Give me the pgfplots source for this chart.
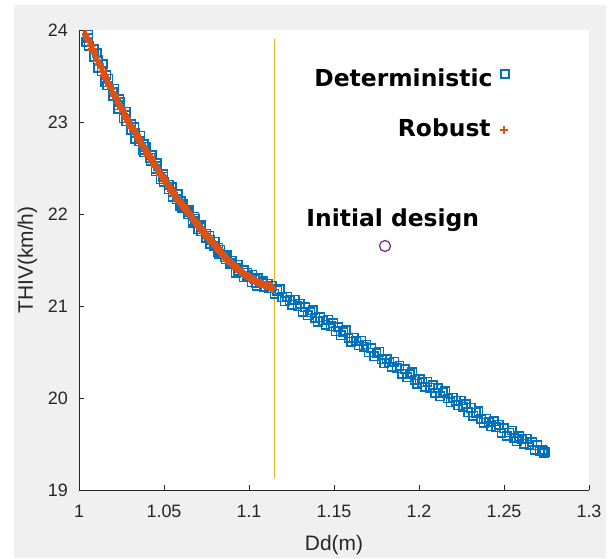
\documentclass[border=0pt]{standalone}
\usepackage{pgfplots}
\pgfplotsset{compat=1.18}
\usepackage{fontspec}
\setmainfont{Liberation Sans}
\newfontfamily\annfont{DejaVu Sans}
\usetikzlibrary{backgrounds}
\definecolor{mblue}{RGB}{0,114,189}
\definecolor{morange}{RGB}{217,83,25}
\definecolor{myellow}{RGB}{237,177,32}
\definecolor{mpurple}{RGB}{126,47,142}
\definecolor{figgray}{RGB}{240,240,240}
\definecolor{axgray}{RGB}{38,38,38}

\begin{document}
\begin{tikzpicture}
\begin{axis}[
  scale only axis, width=510bp, height=460bp,
  xmin=1, xmax=1.3, ymin=19, ymax=24,
  axis lines*=left,
  axis line style={color=axgray, line width=0.9bp},
  tick align=inside, major tick length=5bp,
  tick style={color=axgray, line width=0.9bp},
  xtick={1,1.05,1.1,1.15,1.2,1.25,1.3},
  xticklabels={1,1.05,1.1,1.15,1.2,1.25,1.3},
  ytick={19,20,21,22,23,24},
  /pgf/number format/assume math mode=true,
  ticklabel style={font=\fontsize{18}{18}\selectfont, color=axgray},
  xticklabel style={anchor=base, yshift=-28bp},
  yticklabel style={anchor=east, inner sep=0pt, xshift=-11bp},
  xlabel={Dd(m)}, ylabel={THIV(km/h)},
  label style={font=\fontsize{21}{21}\selectfont, color=axgray},
  xlabel style={at={(axis description cs:0.5,0)}, anchor=base, yshift=-61bp},
  ylabel style={at={(axis description cs:0,0.5)}, anchor=base, yshift=46bp},
  axis background/.style={fill=white},
]
% deterministic front
\addplot[only marks, mark=square, mark size=4.2bp, color=mblue, line width=1.5bp] coordinates {
(1.0055,23.950) (1.0042,23.870) (1.0088,23.790) (1.0088,23.710) (1.0140,23.630)
(1.0135,23.550) (1.0172,23.470) (1.0165,23.397) (1.0200,23.323) (1.0238,23.250)
(1.0230,23.180) (1.0275,23.110) (1.0262,23.040) (1.0308,22.977) (1.0308,22.913)
(1.0360,22.850) (1.0355,22.790) (1.0392,22.730) (1.0385,22.670) (1.0420,22.610)
(1.0458,22.550) (1.0450,22.490) (1.0495,22.433) (1.0482,22.377) (1.0528,22.320)
(1.0528,22.267) (1.0580,22.213) (1.0575,22.160) (1.0612,22.113) (1.0605,22.067)
(1.0640,22.020) (1.0678,21.973) (1.0670,21.927) (1.0715,21.880) (1.0702,21.833)
(1.0748,21.787) (1.0748,21.740) (1.0800,21.697) (1.0795,21.653) (1.0832,21.610)
(1.0825,21.570) (1.0860,21.530) (1.0898,21.490) (1.0890,21.457) (1.0935,21.450)
(1.0922,21.360) (1.0968,21.390) (1.0968,21.310) (1.1020,21.340) (1.1015,21.260)
(1.1052,21.300) (1.1045,21.220) (1.1080,21.270) (1.1118,21.190) (1.1110,21.240)
(1.0055,23.910) (1.0058,23.830) (1.0105,23.750) (1.0110,23.670) (1.0112,23.590)
(1.0160,23.510) (1.0155,23.433) (1.0208,23.360) (1.0202,23.287) (1.0242,23.215)
(1.0230,23.145) (1.0275,23.075) (1.0278,23.008) (1.0325,22.945) (1.0330,22.882)
(1.0332,22.820) (1.0380,22.760) (1.0375,22.700) (1.0428,22.640) (1.0422,22.580)
(1.0462,22.520) (1.0450,22.462) (1.0495,22.405) (1.0498,22.348) (1.0545,22.293)
(1.0550,22.240) (1.0552,22.187) (1.0600,22.137) (1.0595,22.090) (1.0648,22.043)
(1.0642,21.997) (1.0682,21.950) (1.0670,21.903) (1.0715,21.857) (1.0718,21.810)
(1.0765,21.763) (1.0770,21.718) (1.0772,21.675) (1.0820,21.632) (1.0815,21.590)
(1.0868,21.550) (1.0862,21.510) (1.0902,21.473) (1.0890,21.470) (1.0935,21.380)
(1.0938,21.410) (1.0985,21.320) (1.0990,21.360) (1.0992,21.330) (1.1040,21.250)
(1.1035,21.290) (1.1088,21.210) (1.1082,21.260) (1.1122,21.190)
(1.1135,21.221) (1.1150,21.132) (1.1165,21.164) (1.1180,21.180) (1.1195,21.096)
(1.1210,21.053) (1.1225,21.100) (1.1240,21.062) (1.1255,21.014) (1.1270,21.066)
(1.1285,20.998) (1.1300,21.025) (1.1315,20.939) (1.1330,20.987) (1.1345,20.901)
(1.1360,20.934) (1.1375,20.953) (1.1390,20.871) (1.1405,20.830) (1.1420,20.878)
(1.1435,20.842) (1.1450,20.795) (1.1465,20.849) (1.1480,20.782) (1.1495,20.811)
(1.1510,20.724) (1.1525,20.771) (1.1540,20.684) (1.1555,20.717) (1.1570,20.735)
(1.1585,20.652) (1.1600,20.610) (1.1615,20.657) (1.1630,20.619) (1.1645,20.571)
(1.1660,20.623) (1.1675,20.555) (1.1690,20.582) (1.1705,20.494) (1.1720,20.541)
(1.1735,20.453) (1.1750,20.485) (1.1765,20.502) (1.1780,20.419) (1.1795,20.376)
(1.1810,20.424) (1.1825,20.386) (1.1840,20.339) (1.1855,20.392) (1.1870,20.325)
(1.1885,20.352) (1.1900,20.265) (1.1915,20.314) (1.1930,20.227) (1.1945,20.261)
(1.1960,20.279) (1.1975,20.198) (1.1990,20.156) (1.2005,20.205) (1.2020,20.169)
(1.2035,20.123) (1.2050,20.178) (1.2065,20.112) (1.2080,20.141) (1.2095,20.055)
(1.2110,20.105) (1.2125,20.020) (1.2140,20.055) (1.2155,20.075) (1.2170,19.995)
(1.2185,19.955) (1.2200,20.005) (1.2215,19.968) (1.2230,19.920) (1.2245,19.973)
(1.2260,19.906) (1.2275,19.934) (1.2290,19.847) (1.2305,19.894) (1.2320,19.806)
(1.2335,19.838) (1.2350,19.855) (1.2365,19.772) (1.2380,19.729) (1.2395,19.776)
(1.2410,19.739) (1.2425,19.693) (1.2440,19.746) (1.2455,19.680) (1.2470,19.708)
(1.2485,19.622) (1.2500,19.670) (1.2515,19.587) (1.2530,19.625) (1.2545,19.647)
(1.2560,19.569) (1.2575,19.531) (1.2590,19.584) (1.2605,19.550) (1.2620,19.504)
(1.2635,19.558) (1.2650,19.493) (1.2665,19.522) (1.2680,19.436) (1.2695,19.485)
(1.2710,19.420) (1.2725,19.435) (1.2740,19.410) (1.2735,19.400) (1.2728,19.420)
};
% robust front
\addplot[only marks, mark=+, mark size=4.2bp, color=morange, line width=3bp] coordinates {
(1.004,23.950) (1.005,23.910) (1.006,23.870) (1.007,23.830) (1.008,23.790)
(1.009,23.750) (1.010,23.710) (1.011,23.670) (1.012,23.630) (1.013,23.590)
(1.014,23.550) (1.015,23.510) (1.016,23.470) (1.017,23.433) (1.018,23.397)
(1.019,23.360) (1.020,23.323) (1.021,23.287) (1.022,23.250) (1.023,23.215)
(1.024,23.180) (1.025,23.145) (1.026,23.110) (1.027,23.075) (1.028,23.040)
(1.029,23.008) (1.030,22.977) (1.031,22.945) (1.032,22.913) (1.033,22.882)
(1.034,22.850) (1.035,22.820) (1.036,22.790) (1.037,22.760) (1.038,22.730)
(1.039,22.700) (1.040,22.670) (1.041,22.640) (1.042,22.610) (1.043,22.580)
(1.044,22.550) (1.045,22.520) (1.046,22.490) (1.047,22.462) (1.048,22.433)
(1.049,22.405) (1.050,22.377) (1.051,22.348) (1.052,22.320) (1.053,22.293)
(1.054,22.267) (1.055,22.240) (1.056,22.213) (1.057,22.187) (1.058,22.160)
(1.059,22.137) (1.060,22.113) (1.061,22.090) (1.062,22.067) (1.063,22.043)
(1.064,22.020) (1.065,21.997) (1.066,21.973) (1.067,21.950) (1.068,21.927)
(1.069,21.903) (1.070,21.880) (1.071,21.857) (1.072,21.833) (1.073,21.810)
(1.074,21.787) (1.075,21.763) (1.076,21.740) (1.077,21.718) (1.078,21.697)
(1.079,21.675) (1.080,21.653) (1.081,21.632) (1.082,21.610) (1.083,21.590)
(1.084,21.570) (1.085,21.550) (1.086,21.530) (1.087,21.510) (1.088,21.490)
(1.089,21.473) (1.090,21.457) (1.091,21.440) (1.092,21.423) (1.093,21.407)
(1.094,21.390) (1.095,21.377) (1.096,21.363) (1.097,21.350) (1.098,21.337)
(1.099,21.323) (1.100,21.310) (1.101,21.300) (1.102,21.290) (1.103,21.280)
(1.104,21.270) (1.105,21.260) (1.106,21.250) (1.107,21.243) (1.108,21.237)
(1.109,21.230) (1.110,21.223) (1.111,21.217) (1.112,21.210) (1.113,21.200)
(1.114,21.190)
};
% marker keys beside the texts
\addplot[only marks, mark=square, mark size=3.8bp, color=mblue, line width=1.5bp] coordinates {(1.2506,23.522)};
\addplot[only marks, mark=+, mark size=3.6bp, color=morange, line width=2.8bp] coordinates {(1.2500,22.913)};
% reference line
\addplot[color=myellow, line width=1.3bp] coordinates {(1.115,19.125) (1.115,23.9)};
% initial design
\addplot[only marks, mark=o, mark size=5.5bp, color=mpurple, line width=1.3bp] coordinates {(1.180,21.652)};
\node[anchor=base east, font=\annfont\bfseries\fontsize{23.5}{23.5}\selectfont] at (axis cs:1.2453,23.384) {Deterministic};
\node[anchor=base east, font=\annfont\bfseries\fontsize{23.5}{23.5}\selectfont] at (axis cs:1.2442,22.837) {Robust};
\node[anchor=base west, font=\annfont\bfseries\fontsize{23.5}{23.5}\selectfont] at (axis cs:1.1317,21.859) {Initial design};
\end{axis}
\begin{pgfonlayer}{background}
\fill[white] ([shift={(-79bp,-68bp)}]current axis.south west) rectangle ([shift={(21bp,30bp)}]current axis.north east);
\fill[figgray] ([shift={(-65bp,-68bp)}]current axis.south west) rectangle ([shift={(17bp,25bp)}]current axis.north east);
\end{pgfonlayer}
\end{tikzpicture}
\end{document}
